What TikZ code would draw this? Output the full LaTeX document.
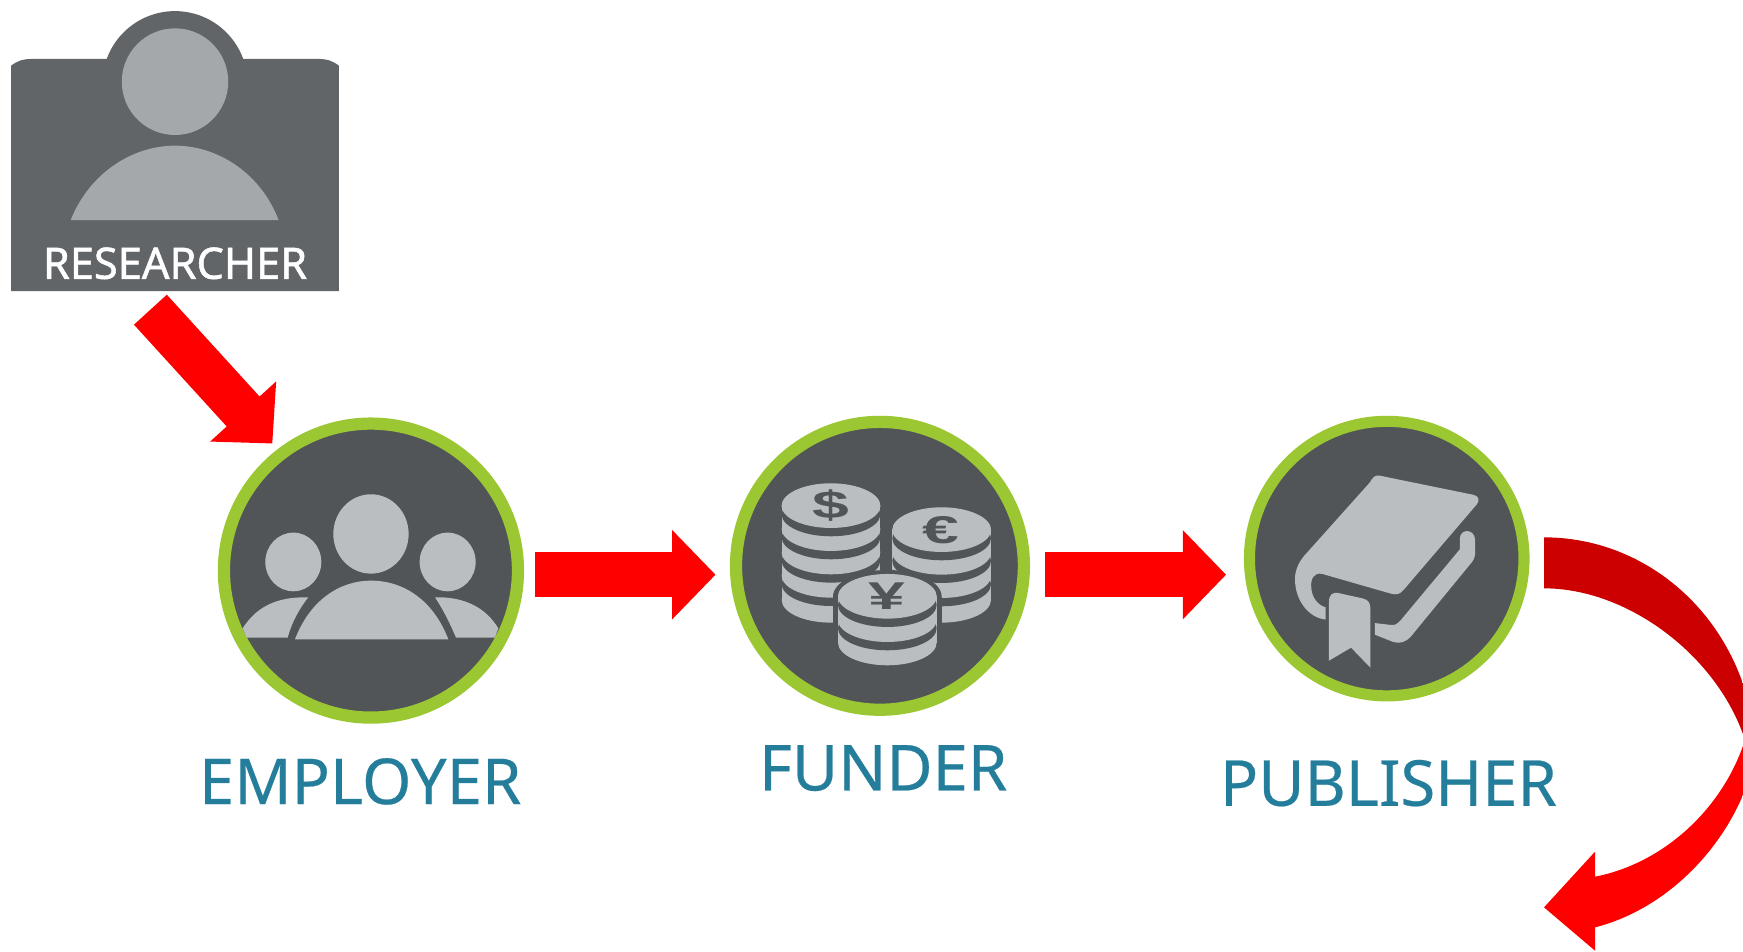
\documentclass[tikz,border=0pt]{standalone}
\usepackage{fontspec}
\setmainfont[FakeBold=0.35]{Noto Sans}
\newfontfamily\cardfont[FakeBold=1.2]{Noto Sans}
\newfontfamily\symfont{Liberation Sans}
\usetikzlibrary{arrows.meta,calc}
\definecolor{dk}{RGB}{82,85,88}
\definecolor{lt}{RGB}{187,190,192}
\definecolor{grn}{RGB}{155,200,50}
\definecolor{teal1}{RGB}{35,125,155}
\definecolor{cardbg}{RGB}{98,101,104}
\definecolor{cardlt}{RGB}{165,168,170}
\definecolor{darkred}{RGB}{204,0,0}
\tikzset{
  ring/.style={circle,draw=grn,fill=dk,inner sep=0pt,line width=#1},
  label1/.style={text=teal1,font=\fontsize{57}{60}\selectfont,inner sep=0pt},
  blockarrow/.style={draw=red,line width=40pt,-{Triangle[length=39pt,width=78pt,fill=red,color=red]}},
  icon/.style={fill=lt},
  iconzone/.style={shift={(#1,359.8)},x=0.29987pt,y=-0.29987pt},
  sym/.style={text=dk,font=\symfont\bfseries\fontsize{41}{41}\selectfont,inner sep=0pt,xscale=1.45,yscale=0.85}
}
% x, top-face centre, bottom-rim centre, face centres from the bottom up
\newcommand{\coinstack}[4]{%
  \fill[lt] (#1,#2) ellipse [x radius=148,y radius=68];
  \fill[lt] (#1,#3) ellipse [x radius=148,y radius=68];
  \fill[lt] (#1-148,#2) rectangle (#1+148,#3);
  \foreach \c in {#4}{
    \fill[dk] (#1,\c+25) ellipse [x radius=148,y radius=66];
    \fill[lt] (#1,\c) ellipse [x radius=148,y radius=66];
  }}
\begin{document}
\begin{tikzpicture}[x=1pt,y=-1pt]
\useasboundingbox (0,0) rectangle (1568,856);
% ---------- researcher card
\node[inner sep=0pt,minimum width=295pt,minimum height=210pt] (researcher) at (157.5,157) {};
\fill[cardbg] (157.4,75.3) circle [radius=65.3];
\begin{scope}[shift={(0,0)},x=0.3213pt,y=-0.29987pt]
  \fill[cardbg] (31,873) -- (31,197) .. controls (50,182) and (65,177) .. (85,177) -- (895,177)
     .. controls (915,177) and (930,182) .. (949,197) -- (949,873) -- cycle;
  \fill[cardlt] (490,245) ellipse [x radius=149,y radius=160];
  \fill[cardlt] (198,660) .. controls (250,520) and (370,437) .. (490,437)
     .. controls (610,437) and (730,520) .. (780,660) -- cycle;
  \node[text=white,inner sep=0pt,font=\cardfont\fontsize{39}{42}\selectfont] (researcherlabel) at (490,790) {RESEARCHER};
\end{scope}
% ---------- rings
\node[ring=11pt,minimum size=264.5pt] (employer) at (333.7,513.3) {};
\node[ring=11pt,minimum size=259pt] (funder) at (791.6,509) {};
\node[ring=10pt,minimum size=247pt] (publisher) at (1247.5,502.5) {};
% ---------- employer icon
\begin{scope}[iconzone=179.9]
  \fill[icon] (513,402) ellipse [x radius=113,y radius=119];
  \fill[icon] (280,486) ellipse [x radius=84,y radius=88];
  \fill[icon] (743,486) ellipse [x radius=84,y radius=88];
  \fill[icon] (285,718) .. controls (330,600) and (420,542) .. (513,542)
     .. controls (610,542) and (700,600) .. (745,718) -- cycle;
  \fill[icon] (140,713) -- (128,685) .. controls (170,620) and (230,590) .. (325,592)
     .. controls (295,630) and (275,670) .. (263,713) -- cycle;
  \fill[icon] (885,713) -- (895,685) .. controls (855,620) and (790,590) .. (705,592)
     .. controls (730,630) and (750,670) .. (768,713) -- cycle;
\end{scope}
% ---------- funder icon
\begin{scope}[iconzone=629.7]
  \coinstack{393}{318}{600}{527,457,387,318}
  \coinstack{725}{390}{600}{528,458,390}
  \fill[dk] (562,590) ellipse [x radius=163,y radius=80];
  \fill[dk] (562,728) ellipse [x radius=163,y radius=80];
  \fill[dk] (399,590) rectangle (725,728);
  \coinstack{562}{590}{728}{660,590}
  \node[sym] (dollar) at (393,318) {\$};
  \node[sym] (euro) at (722,392) {€};
  \node[sym] (yen) at (562,590) {¥};
\end{scope}
% ---------- publisher icon
\begin{scope}[shift={(1088.5,359.8)},x=0.3058pt,y=-0.3161pt]
  \fill[icon] (497,215) -- (775,270) .. controls (790,273) and (795,285) .. (785,297)
     -- (570,540) .. controls (560,552) and (550,555) .. (535,552)
     -- (330,495) .. controls (305,490) and (295,510) .. (298,535)
     .. controls (300,565) and (320,585) .. (340,590) -- (340,625)
     .. controls (290,620) and (250,570) .. (250,510)
     .. controls (250,480) and (265,455) .. (285,435) -- (470,235)
     .. controls (478,222) and (485,213) .. (497,215) -- cycle;
  \fill[icon] (485,635) -- (530,640) .. controls (545,642) and (550,638) .. (560,628)
     -- (735,425) -- (735,395) .. controls (735,365) and (780,365) .. (780,400)
     -- (780,430) .. controls (780,445) and (778,452) .. (770,462)
     -- (592,672) .. controls (575,690) and (560,694) .. (540,689) -- (485,668) -- cycle;
  \fill[icon] (350,575) .. controls (350,555) and (360,545) .. (380,550)
     -- (450,565) .. controls (465,568) and (472,578) .. (472,595)
     -- (472,762) -- (415,705) -- (350,742) -- cycle;
\end{scope}
% ---------- labels
\node[label1] (employerlabel) at (324,703) {EMPLOYER};
\node[label1] (funderlabel) at (794.5,691) {FUNDER};
\node[label1] (publisherlabel) at (1249,704.5) {PUBLISHER};
% ---------- straight connectors
\coordinate (a1s) at ($(researcher.south)+(-22.2,16.4)$);
\coordinate (a1e) at ($(employer.center)+(-88.7,-114.3)$);
\coordinate (a2s) at ($(employer.east)+(9.8,3.7)$);
\coordinate (a2e) at ($(funder.west)+(-12.9,8)$);
\coordinate (a3s) at ($(funder.east)+(13.9,8)$);
\coordinate (a3e) at ($(publisher.west)+(-16,14.5)$);
\draw[blockarrow] (a1s) -- (a1e);
\draw[blockarrow] (a2s) -- (a2e);
\draw[blockarrow] (a3s) -- (a3e);
% ---------- curved connector
\begin{scope}
  \clip (0,0) rectangle (1568,856);
  \begin{scope}[shift={(1376.4,467.8)},x=0.29987pt,y=-0.29987pt]
    \coordinate (c1) at (42,52);
    \coordinate (c2) at (42,205);
    \clip (c1) .. controls (320,52) and (560,240) .. (645,510)
       -- (720,660) -- (645,810)
       .. controls (570,1000) and (400,1170) .. (195,1222)
       -- (195,1292) -- (42,1162) -- (195,995) -- (195,1070)
       .. controls (400,1030) and (570,870) .. (638,680)
       -- (650,660) -- (638,640)
       .. controls (550,400) and (290,205) .. (c2) -- cycle;
    \fill[darkred] (0,0) rectangle (800,660);
    \fill[red] (0,660) rectangle (800,1320);
  \end{scope}
\end{scope}
\end{tikzpicture}
\end{document}
